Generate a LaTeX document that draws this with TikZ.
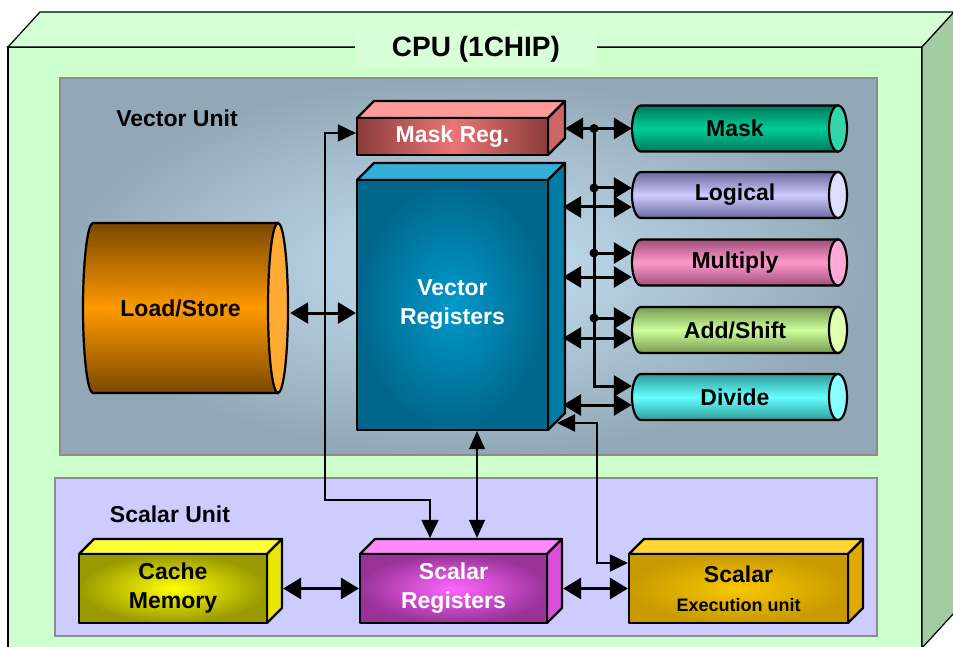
\documentclass[tikz,border=0pt]{standalone}
\usepackage{fontspec}
\setmainfont{Liberation Sans}
\usetikzlibrary{arrows.meta,calc}
\definecolor{cpuFront}{HTML}{CCFFCC}
\definecolor{cpuTop}{HTML}{D4FFD4}
\definecolor{cpuSide}{HTML}{A3CCA3}
\definecolor{titleBg}{HTML}{D9FFD9}
\definecolor{vuIn}{HTML}{C6E3F5}
\definecolor{vuOut}{HTML}{93A8B6}
\definecolor{suFill}{HTML}{CCCCFF}
\definecolor{unitBorder}{HTML}{8C8C8C}
\definecolor{mrD}{HTML}{8A3B3B}\definecolor{mrL}{HTML}{EC7575}\definecolor{mrT}{HTML}{FF9A9A}\definecolor{mrS}{HTML}{CC6666}
\definecolor{vrD}{HTML}{00668A}\definecolor{vrL}{HTML}{0099CC}\definecolor{vrT}{HTML}{33AED6}\definecolor{vrS}{HTML}{007BA3}
\definecolor{cmD}{HTML}{999900}\definecolor{cmL}{HTML}{FFFF00}\definecolor{cmT}{HTML}{FFFF33}\definecolor{cmS}{HTML}{E6E600}
\definecolor{srD}{HTML}{993399}\definecolor{srL}{HTML}{FF66FF}\definecolor{srT}{HTML}{FF88FF}\definecolor{srS}{HTML}{D94FD9}
\definecolor{seD}{HTML}{C89A00}\definecolor{seL}{HTML}{F8C800}\definecolor{seT}{HTML}{FFD633}\definecolor{seS}{HTML}{DDAA00}
\definecolor{mkD}{HTML}{00785A}\definecolor{mkL}{HTML}{00CC99}\definecolor{mkC}{HTML}{33D6AA}
\definecolor{lgD}{HTML}{69699A}\definecolor{lgL}{HTML}{CCCCFF}\definecolor{lgC}{HTML}{DDDDFF}
\definecolor{muD}{HTML}{A05079}\definecolor{muL}{HTML}{FF99CC}\definecolor{muC}{HTML}{FFAAD6}
\definecolor{adD}{HTML}{789952}\definecolor{adL}{HTML}{CCFF99}\definecolor{adC}{HTML}{E0FFB3}
\definecolor{dvD}{HTML}{2E9C9C}\definecolor{dvL}{HTML}{66FFFF}\definecolor{dvC}{HTML}{8AFFFF}
\definecolor{lsD}{HTML}{7A4800}\definecolor{lsL}{HTML}{FF9900}\definecolor{lsC}{HTML}{FFAA33}
\newcommand\lblfont{\fontsize{23}{29}\selectfont\bfseries}
\newcommand\mybox[8]{%
  \draw[boxline, fill=#7T] (#2,#3) -- ({#2+#6},{#3-#6}) -- ({#4+#6},{#3-#6}) -- (#4,#3) -- cycle;
  \draw[boxline, fill=#7S] (#4,#3) -- ({#4+#6},{#3-#6}) -- ({#4+#6},{#5-#6}) -- (#4,#5) -- cycle;
  \node[boxline, draw, #7face, inner sep=0pt, align=center, minimum width={(#4-#2)*1pt}, minimum height={(#5-#3)*1pt}] (#1) at ({(#2+#4)/2},{(#3+#5)/2}) {#8};
}
\newcommand\mycyl[8]{%
  \draw[cylline, top color=#7D, bottom color=#7D, middle color=#7L]
    ({#2+#5},{#4-#6}) .. controls ({#2+0.45*#5},{#4-#6}) and (#2,{#4-0.55*#6}) .. (#2,#4)
    .. controls (#2,{#4+0.55*#6}) and ({#2+0.45*#5},{#4+#6}) .. ({#2+#5},{#4+#6})
    -- (#3,{#4+#6}) -- (#3,{#4-#6}) -- cycle;
  \draw[cylline, fill=#7C] (#3,#4) ellipse [x radius=#5, y radius=#6];
  \node[inner sep=0pt, minimum width={(#3-#2)*1pt}, minimum height={2*#6*1pt}] (#1) at ({(#2+#3)/2},#4) {#8};
}
\begin{document}
\begin{tikzpicture}[x=1pt,y=-1pt,
  every node/.style={font=\lblfont},
  boxline/.style={line width=2.2pt, line join=round},
  cylline/.style={line width=2.2pt},
  unitbox/.style={draw=unitBorder, line width=2.6pt},
  arr/.style={line width=3pt, {Triangle[length=18pt,width=21pt]}-{Triangle[length=18pt,width=21pt]}},
  arrone/.style={line width=3pt, -{Triangle[length=18pt,width=21pt]}},
  arrthin/.style={line width=2pt, {Triangle[length=18pt,width=17pt]}-{Triangle[length=18pt,width=17pt]}},
  arrhair/.style={line width=1.2pt, {Triangle[length=18pt,width=16pt]}-{Triangle[length=18pt,width=16pt]}},
  mrface/.style={left color=mrD, right color=mrD, middle color=mrL, text=white},
  vrface/.style={inner color=vrL, outer color=vrD, text=white},
  cmface/.style={inner color=cmL, outer color=cmD, text=black},
  srface/.style={inner color=srL, outer color=srD, text=white},
  seface/.style={inner color=seL, outer color=seD, text=black},
  dot/.style={circle, fill=black, inner sep=0pt, minimum size=9pt}
]
\useasboundingbox (0,0) rectangle (953,647);
\clip (0,0) rectangle (953,647);
% CPU outer box
\draw[line width=1.2pt, fill=cpuFront] (8,47) rectangle (922,648);
\draw[line width=1.2pt, fill=cpuTop] (8,47) -- (40,12) -- (960,12) -- (954,12) -- (922,47) -- cycle;
\draw[line width=1.2pt, fill=cpuSide] (922,47) -- (954,12) -- (954,613) -- (922,648) -- cycle;
\node[fill=titleBg, minimum width=242pt, minimum height=38pt, inner sep=0pt, font=\fontsize{28}{30}\selectfont\bfseries] (title) at (476,49) {CPU (1CHIP)};
% unit areas
\draw[unitbox, inner color=vuIn, outer color=vuOut] (60,78) rectangle (877,455);
\draw[unitbox, fill=suFill] (55,478) rectangle (877,636);
\node (vutitle) at (177,118) {Vector Unit};
\node (sutitle) at (170,514) {Scalar Unit};
% boxes
\mybox{mr}{357}{118}{548}{155}{17}{mr}{Mask Reg.}
\mybox{vr}{357}{180}{548}{430}{17}{vr}{Vector\\Registers}
\mybox{cm}{79}{554}{267}{623}{15}{cm}{Cache\\Memory}
\mybox{sr}{360}{554}{547}{623}{15}{sr}{Scalar\\Registers}
\mybox{se}{629}{554}{848}{623}{15}{se}{Scalar\\{\fontsize{18}{22}\selectfont Execution unit}}
% cylinders
\mycyl{ls}{83}{278}{308}{10}{85}{ls}{Load/Store}
\mycyl{mask}{632}{838}{128.5}{9}{23}{mk}{Mask}
\mycyl{log}{632}{838}{195}{9}{23}{lg}{Logical}
\mycyl{mul}{632}{838}{262.5}{9}{23}{mu}{Multiply}
\mycyl{add}{632}{838}{330}{9}{23}{ad}{Add/Shift}
\mycyl{div}{632}{838}{397}{9}{23}{dv}{Divide}
% connectors
\draw[arr] ($(ls.east)+(12,5)$) -- ($(vr.west)+(0,8)$);
\coordinate (bendA) at (325,500);
\draw[arrthin] ($(sr.north)+(-23.5,-15)$) |- (bendA) |- ($(mr.west)+(0,-3.5)$);
\draw[arrhair] ($(vr.south)+(24.5,0)$) -- ($(sr.north)+(23.5,-15)$);
\coordinate (vrlow) at (557,423);
\coordinate (bendB) at (597,423);
\draw[arrthin] (vrlow) -- (bendB) |- ($(se.west)+(0,-25.5)$);
\draw[arr] (cm.east) ++(15,0) coordinate (cmside) (cmside) -- (sr.west);
\draw[arr] (sr.east) ++(15,0) coordinate (srside) (srside) -- (se.west);
% mask reg to mask
\coordinate (mrside) at (565,128.5);
\draw[arr] (mrside) -- (mask.west);
\coordinate (busT) at (594,128.5);
\draw[arrone] (busT) |- ($(div.west)+(0,-11)$);
\coordinate (b1) at (594,188);
\coordinate (b2) at (594,253);
\coordinate (b3) at (594,318);
\draw[arrone] (b1) -- (log.west |- b1);
\draw[arrone] (b2) -- (mul.west |- b2);
\draw[arrone] (b3) -- (add.west |- b3);
\node[dot] (d0) at (busT) {};
\node[dot] (d1) at (b1) {};
\node[dot] (d2) at (b2) {};
\node[dot] (d3) at (b3) {};
% vector registers to units
\coordinate (v1) at (563,207);
\coordinate (v2) at (563,277);
\coordinate (v3) at (563,338);
\coordinate (v4) at (563,405);
\draw[arr] (v1) -- (log.west |- v1);
\draw[arr] (v2) -- (mul.west |- v2);
\draw[arr] (v3) -- (add.west |- v3);
\draw[arr] (v4) -- (div.west |- v4);
\end{tikzpicture}
\end{document}
